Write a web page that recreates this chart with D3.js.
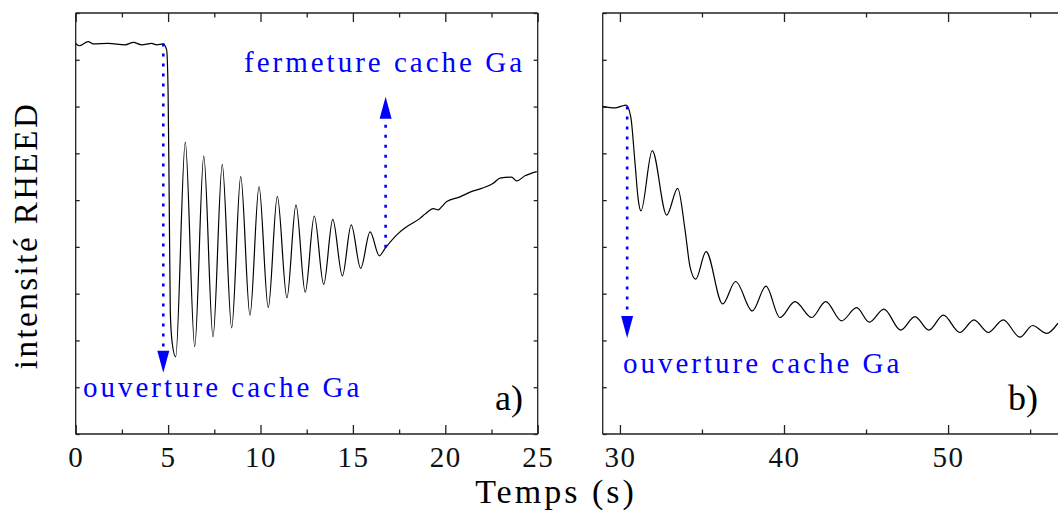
<!DOCTYPE html>
<html><head><meta charset="utf-8">
<script src="https://cdn.jsdelivr.net/npm/d3@7"></script>
<style>
html,body{margin:0;padding:0;background:#fff;}
</style></head>
<body>
<svg id="chart" width="1058" height="512"></svg>
<script>
// ---- data (time in s, RHEED intensity in arbitrary units) ----
const leftTime = [0,0.18,0.68,0.95,1.76,2.67,3.12,3.57,4.11,4.38,4.74,4.92,5.0,5.06,5.12,5.22,
  5.41,5.93,6.44,6.93,7.43,7.93,8.44,8.93,9.43,9.92,10.42,10.91,11.43,11.92,12.42,12.91,13.42,13.91,14.43,14.91,15.42,15.93,
  16.43,16.74,17.46,17.91,18.63,18.90,19.35,19.62,19.81,20.08,20.80,21.34,21.97,22.60,22.96,23.59,23.86,24.31,24.95];
const leftIntensity = [8.35,8.30,8.39,8.34,8.35,8.32,8.37,8.32,8.35,8.32,8.34,8.21,7.3,5.0,2.6,1.95,
  1.65,6.24,1.87,5.94,2.08,5.76,2.27,5.50,2.54,5.29,2.70,5.08,2.91,4.90,3.03,4.66,3.20,4.59,3.38,4.47,3.54,4.32,
  3.81,3.97,4.29,4.43,4.61,4.70,4.82,4.79,4.86,4.97,5.07,5.17,5.25,5.36,5.47,5.49,5.41,5.52,5.61];

const rightTime = [28.95,29.70,30.11,30.37,30.66,30.92,31.12,31.28,31.97,32.85,33.52,33.97,34.27,34.62,35.25,36.26,37.05,38.07,38.90,
  39.75,40.67,41.69,42.54,43.51,44.43,45.20,46.09,47.11,47.98,48.83,49.71,50.72,51.58,52.45,53.36,54.38,55.15,56.01,56.70];
const rightIntensity = [7.00,6.97,7.01,7.03,6.78,5.79,5.00,4.77,6.06,4.68,5.25,4.36,3.58,3.31,3.90,2.78,3.26,2.63,3.16,
  2.49,2.83,2.49,2.83,2.42,2.70,2.39,2.67,2.22,2.51,2.22,2.54,2.17,2.44,2.17,2.44,2.07,2.32,2.15,2.37];

const leftXTicks = [0,5,10,15,20,25];
const leftXMinor = [2.5,7.5,12.5,17.5,22.5];
const rightXTicks = [30,40,50];
const rightXMinor = [35,45,55];
const yTickValues = [0,1,2,3,4,5,6,7,8,9];

// annotations: [x, yStart, yTip]
const arrowOpenA = [4.74, 8.35, 1.31];
const arrowCloseA = [16.77, 3.98, 7.21];
const arrowOpenB = [30.44, 7.0, 2.05];

const FONT = "'Liberation Serif', 'DejaVu Serif', 'Times New Roman', Times, serif";
const svg = d3.select("#chart");
const yTop = 13, yBottom = 434;
const y = d3.scaleLinear().domain([0,9]).range([yBottom, yTop]);
const xL = d3.scaleLinear().domain([0,25]).range([75.7,537.7]);
const xR = d3.scaleLinear().domain([28.95,56.7]).range([602.7,1058]);

const frameColor = "#222";
function frame(x, drawRight){
  const [x0,x1] = x.range();
  const g = svg.append("g");
  const lines = [[x0,yTop,x1,yTop],[x0,yBottom,x1,yBottom],[x0,yTop,x0,yBottom]];
  if (drawRight) lines.push([x1,yTop,x1,yBottom]);
  lines.forEach(l => g.append("line").attr("x1",l[0]).attr("y1",l[1]).attr("x2",l[2]).attr("y2",l[3])
    .attr("stroke",frameColor).attr("stroke-width",1.3));
  return g;
}

function styleTicks(g){
  g.select(".domain").remove();
  g.selectAll("line").attr("stroke",frameColor).attr("stroke-width",1.3);
}

function xAxes(x, major, minor){
  const gb = svg.append("g").attr("transform",`translate(0,${yBottom})`)
    .call(d3.axisBottom(x).tickValues(major).tickSizeInner(-9).tickSizeOuter(0).tickFormat(d3.format("d")));
  styleTicks(gb);
  gb.attr("font-family", FONT);
  gb.selectAll("text").attr("y",33).attr("dy",0).attr("fill","#111")
    .style("font-family", FONT).style("font-size","29px").style("letter-spacing","1.5px");
  const gbm = svg.append("g").attr("transform",`translate(0,${yBottom})`)
    .call(d3.axisBottom(x).tickValues(minor).tickSizeInner(-4.5).tickSizeOuter(0).tickFormat(""));
  styleTicks(gbm);
  const gt = svg.append("g").attr("transform",`translate(0,${yTop})`)
    .call(d3.axisTop(x).tickValues(major).tickSizeInner(-9).tickSizeOuter(0).tickFormat(""));
  styleTicks(gt);
  const gtm = svg.append("g").attr("transform",`translate(0,${yTop})`)
    .call(d3.axisTop(x).tickValues(minor).tickSizeInner(-4.5).tickSizeOuter(0).tickFormat(""));
  styleTicks(gtm);
}

function yAxis(xpos, dirLeft){
  const ax = dirLeft ? d3.axisLeft(y) : d3.axisRight(y);
  const g = svg.append("g").attr("transform",`translate(${xpos},0)`)
    .call(ax.tickValues(yTickValues).tickSizeInner(-4).tickSizeOuter(0).tickFormat(""));
  styleTicks(g);
}

// Panel a
frame(xL, true);
xAxes(xL, leftXTicks, leftXMinor);
yAxis(xL.range()[0], true);
yAxis(xL.range()[1], false);
// Panel b
frame(xR, false);
xAxes(xR, rightXTicks, rightXMinor);
yAxis(xR.range()[0], true);

// curves
const lineL = d3.line().x((d,i)=>xL(leftTime[i])).y(d=>y(d)).curve(d3.curveMonotoneX);
const lineR = d3.line().x((d,i)=>xR(rightTime[i])).y(d=>y(d)).curve(d3.curveMonotoneX);
svg.append("path").attr("d",lineL(leftIntensity)).attr("fill","none").attr("stroke","#000").attr("stroke-width",1.2);
svg.append("clipPath").attr("id","clipR").append("rect")
  .attr("x",xR.range()[0]).attr("y",yTop).attr("width",xR.range()[1]-xR.range()[0]).attr("height",yBottom-yTop);
svg.append("path").attr("d",lineR(rightIntensity)).attr("fill","none").attr("stroke","#000").attr("stroke-width",1.2)
  .attr("clip-path","url(#clipR)");

// arrows
const blue = "#0000ff";
function arrow(x, a){
  const px = x(a[0]), y0 = y(a[1]), yt = y(a[2]);
  const dir = yt > y0 ? 1 : -1;
  const headLen = 22, headHalf = 6;
  const yb = yt - dir*headLen;
  svg.append("line").attr("x1",px).attr("x2",px).attr("y1",y0).attr("y2",yb)
    .attr("stroke",blue).attr("stroke-width",2.6).attr("stroke-dasharray","3,7");
  svg.append("path").attr("d",`M${px},${yt}L${px-headHalf},${yb}L${px+headHalf},${yb}Z`).attr("fill",blue);
}
arrow(xL, arrowOpenA);
arrow(xL, arrowCloseA);
arrow(xR, arrowOpenB);

// texts
function txt(s, x0, y0, size, ls, color, anchor){
  return svg.append("text").attr("x",x0).attr("y",y0).text(s)
    .attr("fill",color).attr("text-anchor",anchor||"start")
    .attr("font-family", FONT)
    .style("font-family", FONT).style("font-size",size+"px").style("letter-spacing",ls+"px");
}
txt("fermeture cache Ga", 244, 72, 29, 3, blue);
txt("ouverture cache Ga", 83, 397, 29, 3, blue);
txt("ouverture cache Ga", 623, 373, 29, 3, blue);
txt("a)", 495, 410, 36, 0, "#000");
txt("b)", 1008, 410, 36, 0, "#000");
txt("Temps (s)", 556, 503, 34, 3, "#000", "middle");
svg.append("text").attr("transform","translate(37,235.5) rotate(-90)").attr("text-anchor","middle")
  .text("intensité RHEED").attr("fill","#000")
  .style("font-family", FONT).style("font-size","33px").style("letter-spacing","2.5px");
</script>
</body></html>
